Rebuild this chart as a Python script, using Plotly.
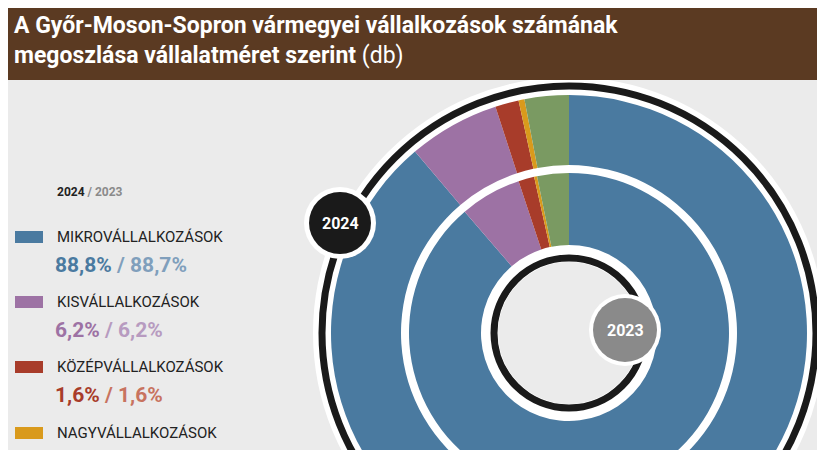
import plotly.graph_objects as go

categories = ["Mikrovállalkozások", "Kisvállalkozások", "Középvállalkozások", "Nagyvállalkozások", "Egyéb"]
legend_labels = ["MIKROVÁLLALKOZÁSOK", "KISVÁLLALKOZÁSOK", "KÖZÉPVÁLLALKOZÁSOK", "NAGYVÁLLALKOZÁSOK"]
values_2024 = [88.8, 6.2, 1.6, 0.4, 3.0]
values_2023 = [88.7, 6.2, 1.6, 0.3, 3.2]
pct_2024 = ["88,8%", "6,2%", "1,6%", "0,4%"]
pct_2023 = ["88,7%", "6,2%", "1,6%", "0,3%"]
colors = ["#4a7aa0", "#9d72a4", "#a83c2a", "#d99a1c", "#7a9a62"]
colors_light = ["#809fbc", "#b79bc0", "#c8735f", "#e0b15a"]

W, H = 825, 620
OFF = 8  # page body margin
cx, cy = 569, 333

def px(x): return (x - OFF) / W
def py(y): return 1 - (y - OFF) / H

def dom(r):
    return dict(x=[px(cx - r), px(cx + r)], y=[py(cy + r), py(cy - r)])

fig = go.Figure()
fig.add_trace(go.Pie(values=values_2024, labels=categories, sort=False, direction="clockwise",
                     rotation=0, hole=168/238, domain=dom(238), marker=dict(colors=colors, line=dict(width=0)),
                     textinfo="none", hoverinfo="label+percent", showlegend=False))
fig.add_trace(go.Pie(values=values_2023, labels=categories, sort=False, direction="clockwise",
                     rotation=0, hole=88/160, domain=dom(160), marker=dict(colors=colors, line=dict(width=0)),
                     textinfo="none", hoverinfo="label+percent", showlegend=False))

shapes = []
def circ(x, y, r, fill=None, line=None, lw=0, layer="below"):
    shapes.append(dict(type="circle", xref="paper", yref="paper", x0=px(x - r), x1=px(x + r),
                       y0=py(y + r), y1=py(y - r), fillcolor=fill, layer=layer,
                       line=dict(color=line or "rgba(0,0,0,0)", width=lw)))

circ(cx, cy, 256, fill="white")
circ(cx, cy, 247, line="#1a1a1a", lw=7)
circ(cx, cy, 75, line="#1a1a1a", lw=7, layer="above")
circ(cx, cy, 71, fill="#ebebeb", layer="above")
shapes.append(dict(type="rect", xref="paper", yref="paper", x0=0, x1=1, y0=py(80), y1=1.05,
                   fillcolor="#5b3a22", line=dict(width=0), layer="above"))
circ(340, 223, 36, fill="white", layer="above")
circ(340, 223, 31, fill="#1a1a1a", layer="above")
circ(625, 330, 36, fill="white", layer="above")
circ(625, 330, 32, fill="#8a8a8a", layer="above")

ann = []
def text(x, y, s, size, color, anchor="left", font="Roboto", bold=False):
    ann.append(dict(x=px(x), y=py(y), xref="paper", yref="paper", text=f"<b>{s}</b>" if bold else s,
                    showarrow=False, xanchor=anchor, yanchor="middle",
                    font=dict(size=size, color=color, family=font)))

ann.append(dict(x=px(12), y=py(40), xref="paper", yref="paper", showarrow=False, xanchor="left",
                yanchor="middle", align="left",
                text="<b>A Győr-Moson-Sopron vármegyei vállalkozások számának</b><br><b>megoszlása vállalatméret szerint</b> (db)",
                font=dict(size=23, color="white", family="Roboto")))
text(340, 223, "2024", 16, "white", "center", bold=True)
text(625, 330, "2023", 16, "white", "center", bold=True)
text(55, 192, "<b>2024</b> <span style='color:#8a8a8a'><b>/ 2023</b></span>", 12, "#222")

rows = [237, 302, 367, 433]
for i, y in enumerate(rows):
    shapes.append(dict(type="rect", xref="paper", yref="paper", x0=px(15), x1=px(43), y0=py(y + 6), y1=py(y - 6),
                       fillcolor=colors[i], line=dict(width=0), layer="above"))
    text(55, y, legend_labels[i], 15, "#222")
    text(53, y + 28, f"<b>{pct_2024[i]}</b> <span style='color:{colors_light[i]}'><b>/ {pct_2023[i]}</b></span>",
         21, colors[i])

fig.update_layout(width=W, height=H, margin=dict(l=0, r=0, t=0, b=0), paper_bgcolor="#ebebeb",
                  plot_bgcolor="#ebebeb", shapes=shapes, annotations=ann, showlegend=False)
fig.write_html("out.html")
